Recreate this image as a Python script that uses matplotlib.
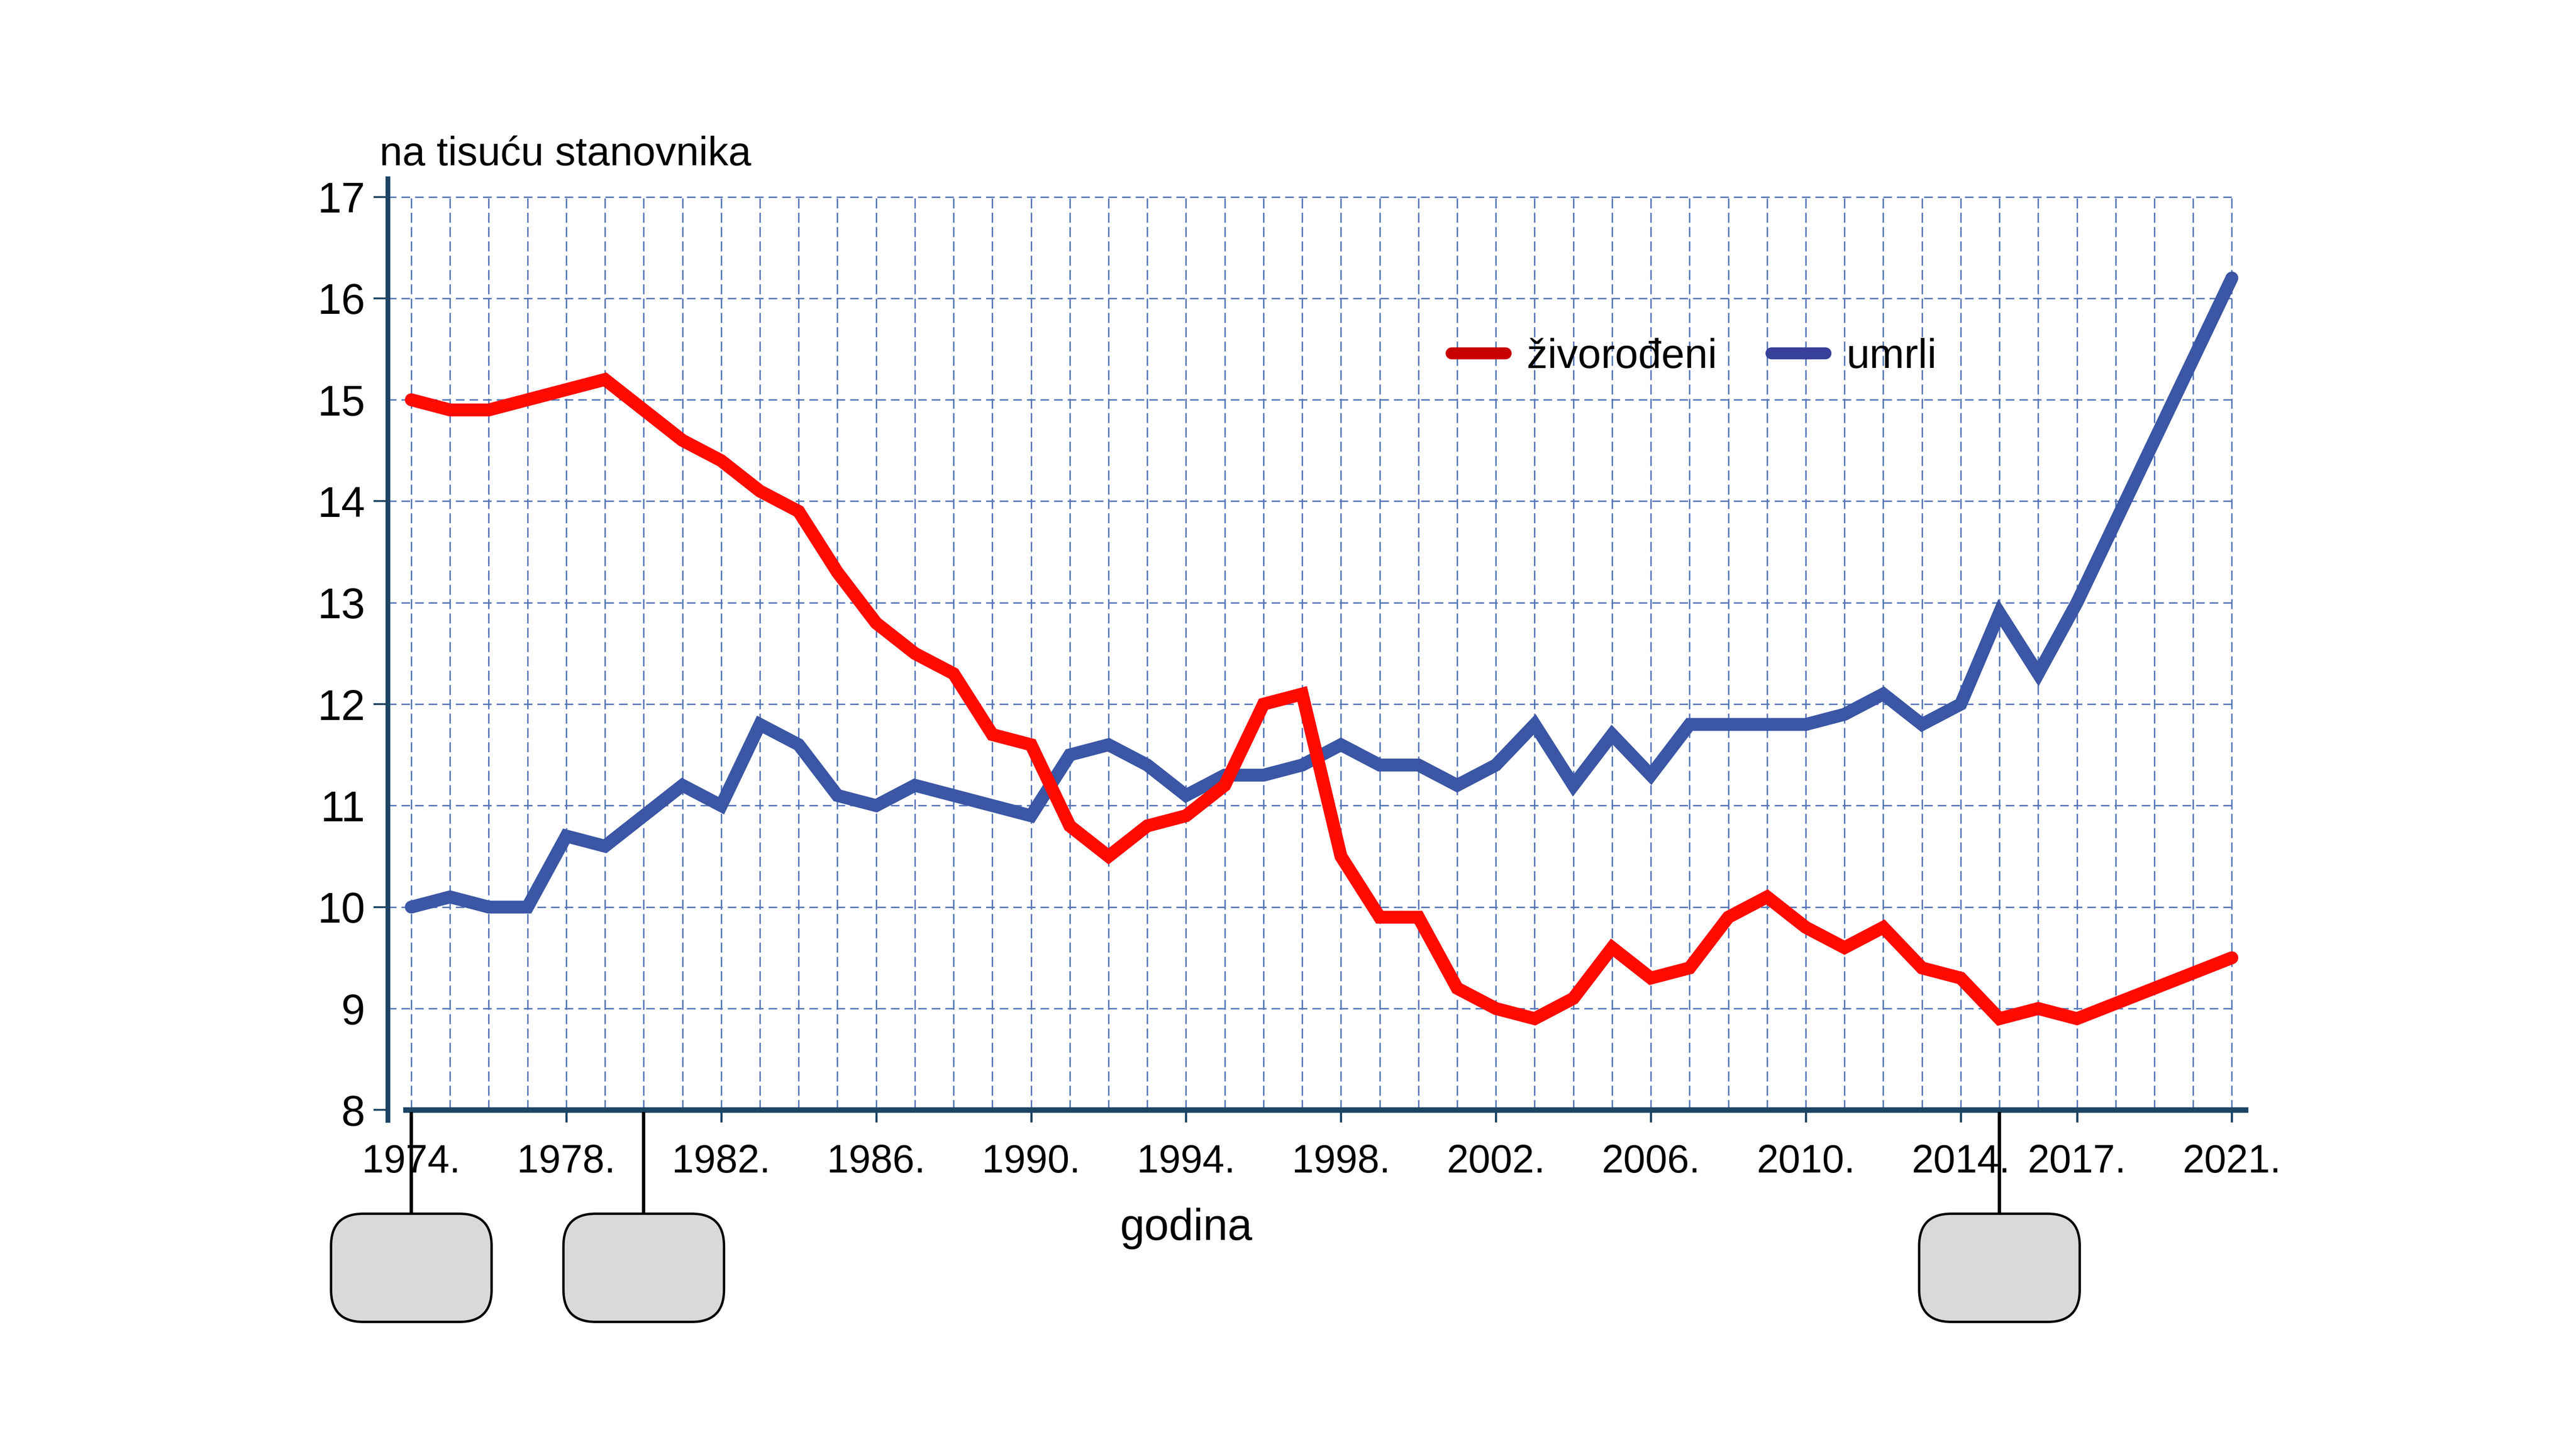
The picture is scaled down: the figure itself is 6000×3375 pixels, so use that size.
import matplotlib
matplotlib.use('Agg')
import matplotlib.pyplot as plt
from matplotlib.lines import Line2D
from matplotlib.patches import FancyBboxPatch
from matplotlib import font_manager
import numpy as np

# podaci (na tisuću stanovnika)
years = list(range(1974, 2022))
zivorodeni = [15.0, 14.9, 14.9, 15.0, 15.1, 15.2, 14.9, 14.6, 14.4, 14.1,
              13.9, 13.3, 12.8, 12.5, 12.3, 11.7, 11.6, 10.8, 10.5, 10.8,
              10.9, 11.2, 12.0, 12.1, 10.5, 9.9, 9.9, 9.2, 9.0, 8.9,
              9.1, 9.6, 9.3, 9.4, 9.9, 10.1, 9.8, 9.6, 9.8, 9.4,
              9.3, 8.9, 9.0, 8.9, 9.05, 9.2, 9.35, 9.5]
umrli = [10.0, 10.1, 10.0, 10.0, 10.7, 10.6, 10.9, 11.2, 11.0, 11.8,
         11.6, 11.1, 11.0, 11.2, 11.1, 11.0, 10.9, 11.5, 11.6, 11.4,
         11.1, 11.3, 11.3, 11.4, 11.6, 11.4, 11.4, 11.2, 11.4, 11.8,
         11.2, 11.7, 11.3, 11.8, 11.8, 11.8, 11.8, 11.9, 12.1, 11.8,
         12.0, 12.9, 12.3, 13.0, 13.8, 14.6, 15.4, 16.2]
tick_years = [1974, 1978, 1982, 1986, 1990, 1994, 1998, 2002, 2006, 2010, 2014, 2017, 2021]
tick_labels = [f'{y}.' for y in tick_years]
y_ticks = list(range(8, 18))
callout_years = [1974, 1980, 2015]

# font (uži font ako postoji)
names = {f.name for f in font_manager.fontManager.ttflist}
main_font = 'Liberation Sans Narrow' if 'Liberation Sans Narrow' in names else 'Liberation Sans'
plt.rcParams['font.family'] = [main_font, 'DejaVu Sans']

W, H, DPI = 6000, 3375, 400
fig = plt.figure(figsize=(W / DPI, H / DPI), dpi=DPI, facecolor='white')

navy = '#1C4463'
grid_c = '#5476B8'
red = '#FF0A00'
blue = '#3A56A5'

# os
x0, x1 = 1973.39, 2021.35
y0, y1 = 7.9, 17.18
ax = fig.add_axes([903 / W, 1 - 2609 / H, (5230 - 903) / W, (2609 - 416) / H])
ax.set_xlim(x0, x1)
ax.set_ylim(y0, y1)
ax.set_facecolor('none')

for s in ['top', 'right']:
    ax.spines[s].set_visible(False)
ax.spines['left'].set_color(navy)
ax.spines['left'].set_linewidth(2.0)
ax.spines['bottom'].set_color(navy)
ax.spines['bottom'].set_linewidth(2.3)
ax.spines['bottom'].set_position(('data', 8))
ax.spines['bottom'].set_bounds(1973.86, x1)

# mreza
ax.vlines(years, 8, 17, colors=grid_c, linewidth=0.6, linestyles=(0, (7, 3)), zorder=1)
ax.hlines(y_ticks[1:], x0, 2021, colors=grid_c, linewidth=0.6, linestyles=(0, (6, 3.5)), zorder=1)

# linije
ax.plot(years, umrli, color=blue, lw=5.4, solid_capstyle='round', solid_joinstyle='miter', zorder=3)
ax.plot(years, zivorodeni, color=red, lw=5.4, solid_capstyle='round', solid_joinstyle='miter', zorder=4)

# ticks
ax.set_xticks(tick_years)
ax.set_xticklabels(tick_labels, fontsize=16.5)
ax.set_yticks(y_ticks)
ax.set_yticklabels([str(v) for v in y_ticks], fontsize=18)
ax.tick_params(axis='x', direction='out', length=5.2, width=0.9, color=navy, pad=9)
ax.tick_params(axis='y', direction='out', length=5.9, width=0.8, color=navy, pad=3.6)
for v, t in zip(y_ticks, ax.yaxis.get_major_ticks()):
    if v % 2 == 1 and v != 17:
        t.tick1line.set_visible(False)

# legenda
handles = [Line2D([], [], color='#C80000', lw=5.0, solid_capstyle='round'),
           Line2D([], [], color='#37419A', lw=5.0, solid_capstyle='round')]
ax.legend(handles, ['živorođeni', 'umrli'], ncol=2, frameon=False, fontsize=17.5,
          loc='center left', bbox_to_anchor=(3381 / W, 1 - 832 / H),
          bbox_transform=fig.transFigure, borderpad=0, borderaxespad=0,
          handlelength=1.3, handletextpad=0.5, columnspacing=1.3)

# natpisi
fig.text(884 / W, 1 - 385 / H, 'na tisuću stanovnika', fontsize=17.2, ha='left', va='baseline')
fig.text(2763 / W, 1 - 2888 / H, 'godina', fontsize=18.5, ha='center', va='baseline')

# oblacici ispod osi
ov = fig.add_axes([0, 0, 1, 1], zorder=5)
ov.set_xlim(0, W)
ov.set_ylim(H, 0)
ov.axis('off')
ov.patch.set_alpha(0)
for yr in callout_years:
    px = ax.transData.transform((yr, 8))[0] * W / fig.bbox.width
    ov.plot([px, px], [2590, 2827], color='black', lw=1.4, solid_capstyle='butt')
    box = FancyBboxPatch((px - 187, 2827), 374, 252,
                         boxstyle='round,pad=0,rounding_size=75',
                         facecolor='#D9D9D9', edgecolor='black', lw=1.0)
    ov.add_patch(box)

fig.savefig('out.png', dpi=DPI, facecolor='white')
